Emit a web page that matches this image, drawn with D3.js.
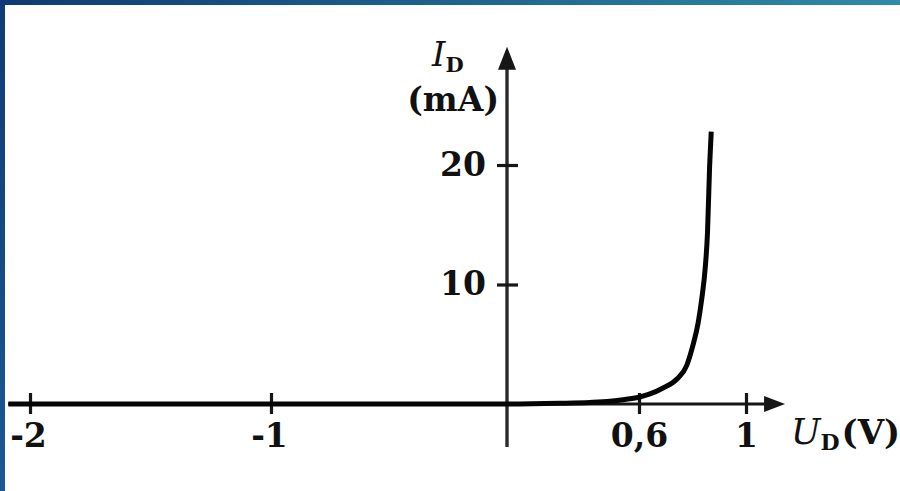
<!DOCTYPE html>
<html>
<head>
<meta charset="utf-8">
<script src="https://cdn.jsdelivr.net/npm/d3@7"></script>
<style>
  html, body { margin: 0; padding: 0; background: #fff; }
  svg { display: block; }
  text { fill: #111; }
</style>
</head>
<body>
<svg id="chart" width="900" height="491"></svg>
<script>
// Diode forward/reverse characteristic, I_D against U_D
const voltage = [-2.09, -1, 0, 0.241, 0.377, 0.468, 0.536, 0.604, 0.641, 0.69, 0.742, 0.779, 0.802, 0.821, 0.834, 0.848, 0.856, 0.864, 0.87];
const current = [0, 0, 0, 0.06, 0.13, 0.23, 0.38, 0.59, 0.84, 1.34, 2.09, 3.26, 4.94, 6.78, 8.7, 11.5, 14.3, 19.9, 22.8];
const xTicks = [-2, -1, 0.6, 1];
const yTicks = [10, 20];
const xTickLabels = ["-2", "-1", "0,6", "1"];
const yTickLabels = ["10", "20"];

const W = 900, H = 491;
const svg = d3.select("#chart");

// frame: gradient bar along the top, solid bar down the left
const defs = svg.append("defs");
const gTop = defs.append("linearGradient").attr("id", "topBar").attr("x1", 0).attr("x2", 1).attr("y1", 0).attr("y2", 0);
gTop.append("stop").attr("offset", 0).attr("stop-color", "#0e3a75");
gTop.append("stop").attr("offset", 1).attr("stop-color", "#2f8ba7");
const gLeft = defs.append("linearGradient").attr("id", "leftBar").attr("x1", 0).attr("x2", 0).attr("y1", 0).attr("y2", 1);
gLeft.append("stop").attr("offset", 0).attr("stop-color", "#0e3b76");
gLeft.append("stop").attr("offset", 1).attr("stop-color", "#1c5892");
svg.append("rect").attr("x", 0).attr("y", 0).attr("width", W).attr("height", H).attr("fill", "#fff");
svg.append("rect").attr("x", 0).attr("y", 0).attr("width", W).attr("height", 5).attr("fill", "url(#topBar)");
svg.append("rect").attr("x", 0).attr("y", 0).attr("width", 5).attr("height", H).attr("fill", "url(#leftBar)");

// schematic scales (the voltage axis is drawn piecewise, as in a textbook sketch)
const x = d3.scaleLinear().domain([-2, -1, 0, 0.6, 1]).range([30, 271, 507, 639, 746]);
const y = d3.scaleLinear().domain([0, 20]).range([404, 165]);

const x0 = x(0), y0 = y(0);
const axisColor = "#161616";
const numFont = "'DejaVu Serif', serif";

// horizontal axis with arrow
const xEnd = x(1.146);
svg.append("line").attr("x1", x(-2.09)).attr("x2", xEnd - 16).attr("y1", y0).attr("y2", y0)
  .attr("stroke", axisColor).attr("stroke-width", 3.2);
svg.append("path")
  .attr("d", `M${xEnd},${y0} L${xEnd - 21},${y0 - 8} L${xEnd - 21},${y0 + 8} Z`)
  .attr("fill", axisColor);

// vertical axis with arrow
const yTop = y(29.9);
svg.append("line").attr("x1", x0).attr("x2", x0).attr("y1", y(-3.6)).attr("y2", yTop + 18)
  .attr("stroke", "#2a2a2a").attr("stroke-width", 3.4);
svg.append("path")
  .attr("d", `M${x0},${yTop} L${x0 - 9},${yTop + 23} L${x0 + 9},${yTop + 23} Z`)
  .attr("fill", axisColor);

// ticks crossing the axes
const xAxis = d3.axisBottom(x).tickValues(xTicks).tickSizeInner(0).tickSizeOuter(0)
  .tickFormat((d, i) => xTickLabels[i]);
const gx = svg.append("g").attr("transform", `translate(0,${y0})`).call(xAxis);
gx.select(".domain").remove();
gx.selectAll(".tick line").attr("y1", -11).attr("y2", 10).attr("stroke", axisColor).attr("stroke-width", 3.2);
gx.selectAll(".tick text")
  .attr("y", 43).attr("dy", 0)
  .attr("dx", d => d < 0 ? -2 : 0)
  .attr("font-family", numFont).attr("font-weight", "bold").attr("font-size", 33)
  .attr("fill", "#111").attr("text-anchor", "middle");

const yAxis = d3.axisLeft(y).tickValues(yTicks).tickSizeInner(0).tickSizeOuter(0)
  .tickFormat((d, i) => yTickLabels[i]);
const gy = svg.append("g").attr("transform", `translate(${x0},0)`).call(yAxis);
gy.select(".domain").remove();
gy.selectAll(".tick line").attr("x1", -10).attr("x2", 11).attr("stroke", axisColor).attr("stroke-width", 3.2);
gy.selectAll(".tick text")
  .attr("x", -21).attr("dy", 10)
  .attr("font-family", numFont).attr("font-weight", "bold").attr("font-size", 33)
  .attr("fill", "#111").attr("text-anchor", "end");

// characteristic curve
const pts = voltage.map((v, i) => [v, current[i]]);
const line = d3.line().x(d => x(d[0])).y(d => y(d[1])).curve(d3.curveMonotoneX);
svg.append("path").datum(pts)
  .attr("d", line)
  .attr("fill", "none").attr("stroke", "#050505").attr("stroke-width", 5)
  .attr("stroke-linecap", "butt").attr("stroke-linejoin", "round");

// axis titles
const yTitle = svg.append("text").attr("x", 432).attr("y", 66)
  .attr("font-family", "'DejaVu Serif', serif").attr("font-size", 34);
yTitle.append("tspan").attr("font-style", "italic").text("I");
yTitle.append("tspan").attr("font-size", 21).attr("font-weight", "bold").attr("dy", 6).text("D");

svg.append("text").attr("x", 499).attr("y", 111).attr("text-anchor", "end")
  .attr("font-family", numFont).attr("font-weight", "bold").attr("font-size", 33)
  .text("(mA)");

const xTitle = svg.append("text").attr("x", 791).attr("y", 444)
  .attr("font-family", "'DejaVu Serif', serif").attr("font-size", 35);
xTitle.append("tspan").attr("font-style", "italic").text("U");
xTitle.append("tspan").attr("font-size", 22).attr("font-weight", "bold").attr("dy", 6).text("D");
xTitle.append("tspan").attr("dy", -6).attr("dx", 2).attr("font-weight", "bold").attr("font-size", 34).text("(V)");
</script>
</body>
</html>
